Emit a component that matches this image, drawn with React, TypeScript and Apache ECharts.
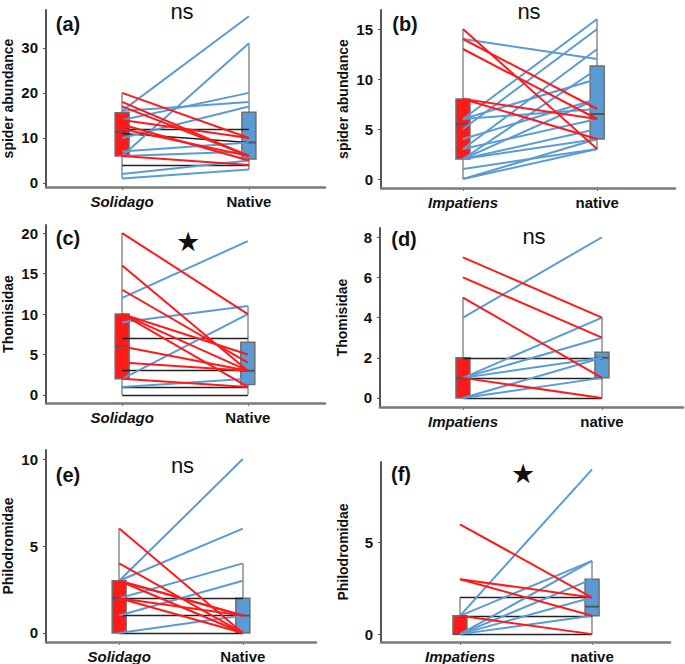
import React, { useEffect, useRef } from "react";
import * as echarts from "echarts";

type Pair = [number, number];

// ---------- data ----------
const catsSolidago = ["Solidago", "Native"];
const catsImpatiens = ["Impatiens", "native"];
const yTitles = ["spider abundance", "spider abundance", "Thomisidae", "Thomisidae", "Philodromidae", "Philodromidae"];
const panelLabels = ["(a)", "(b)", "(c)", "(d)", "(e)", "(f)"];
const signifLabels = ["ns", "ns", "★", "ns", "ns", "★"];

const ticksA = [0, 10, 20, 30];
const ticksB = [0, 5, 10, 15];
const ticksC = [0, 5, 10, 15, 20];
const ticksD = [0, 2, 4, 6, 8];
const ticksE = [0, 5, 10];
const ticksF = [0, 5];

// paired values [invasive, native]
const redA: Pair[] = [[20, 10], [18, 6], [17, 6], [14, 10], [13, 5], [12, 6], [6, 4]];
const blueA: Pair[] = [[16, 37], [6, 31], [14, 20], [16, 18], [10, 17], [7, 9], [6, 7], [2, 5], [1, 3]];
const blackA: Pair[] = [[12, 12], [11, 9], [4, 4]];

const redB: Pair[] = [[15, 3], [14, 7], [13, 6], [8, 6], [8, 4]];
const blueB: Pair[] = [[14, 12], [6, 16], [5, 15], [3, 13], [2, 11], [6, 10], [2, 8], [4, 8], [6, 7], [3, 6], [2, 5], [2, 4], [1, 3], [0, 4], [0, 3]];
const blackB: Pair[] = [];

const redC: Pair[] = [[20, 10], [16, 3], [13, 4], [10, 5], [10, 3], [10, 1], [6, 3], [4, 3], [2, 1]];
const blueC: Pair[] = [[12, 19], [9, 11], [2, 10], [1, 2]];
const blackC: Pair[] = [[7, 7], [3, 3], [1, 1], [0, 0]];

const redD: Pair[] = [[7, 4], [6, 3], [5, 1], [1, 0]];
const blueD: Pair[] = [[4, 8], [1, 4], [1, 3], [1, 2], [0, 2], [0, 1]];
const blackD: Pair[] = [[2, 2], [1, 1], [0, 0]];

const redE: Pair[] = [[6, 0], [4, 0], [3, 1], [3, 1], [3, 0], [2, 1], [2, 0]];
const blueE: Pair[] = [[3, 10], [3, 6], [2, 4], [1, 3], [0, 1]];
const blackE: Pair[] = [[2, 2], [1, 1], [0, 0]];

const redF: Pair[] = [[6, 2], [3, 2], [3, 1], [1, 0]];
const blueF: Pair[] = [[1, 9], [1, 4], [0, 4], [0, 3], [0, 2], [0, 1]];
const blackF: Pair[] = [[2, 2], [1, 1], [0, 0]];

// boxes: [q1, median, q3] for invasive / native
const boxA = [[6, 11.4, 15.6], [5.3, 9, 15.7]];
const boxB = [[2, 5.5, 8], [4, 6.5, 11.3]];
const boxC = [[2, 6, 10], [1.3, 3, 6.5]];
const boxD = [[0, 1, 2], [1, 2, 2.27]];
const boxE = [[0, 2, 3], [0, 1, 2]];
const boxF = [[0, 0, 1], [1, 1.5, 3]];

// whiskers: [low, high] for invasive / native
const whiskA = [[1, 20], [3, 31]];
const whiskB = [[0, 15], [3, 16]];
const whiskC = [[0, 20], [0, 11]];
const whiskD = [[0, 5], [0, 4]];
const whiskE = [[0, 6], [0, 4]];
const whiskF = [[0, 2], [0, 4]];

// ---------- layout ----------
const FONT = '"Liberation Sans", Arial, Helvetica, sans-serif';
const RED = "#ff1a1a";
const BLUE = "#5b9bd5";

const layouts = [
  { left: 44, right: 360, top: 10, bottom: 477, xMin: -0.6, xMax: 1.6, yMin: -0.89, yMax: 38.4, lab: [68, 24], sig: [182, 0], sigTop: true },
  { left: 381, right: 10, top: 10, bottom: 476, xMin: -0.611, xMax: 1.58, yMin: -0.9, yMax: 16.9, lab: [405, 24], sig: [529, 0], sigTop: true },
  { left: 43, right: 360, top: 225, bottom: 261, xMin: -0.606, xMax: 1.614, yMin: -0.99, yMax: 21.0, lab: [68, 238], sig: [188, 241], sigTop: false },
  { left: 380, right: 2, top: 228, bottom: 257, xMin: -0.597, xMax: 1.583, yMin: -0.45, yMax: 8.46, lab: [404, 238.5], sig: [534, 236.5], sigTop: false },
  { left: 43, right: 369, top: 450, bottom: 22, xMin: -0.592, xMax: 1.592, yMin: -0.52, yMax: 10.52, lab: [68, 475], sig: [182.5, 465.5], sigTop: false },
  { left: 381, right: 15, top: 462, bottom: 21, xMin: -0.598, xMax: 1.59, yMin: -0.43, yMax: 9.4, lab: [401, 474], sig: [523, 473], sigTop: false },
];

const panels = [
  { cats: catsSolidago, ticks: ticksA, red: redA, blue: blueA, black: blackA, box: boxA, whisk: whiskA },
  { cats: catsImpatiens, ticks: ticksB, red: redB, blue: blueB, black: blackB, box: boxB, whisk: whiskB },
  { cats: catsSolidago, ticks: ticksC, red: redC, blue: blueC, black: blackC, box: boxC, whisk: whiskC },
  { cats: catsImpatiens, ticks: ticksD, red: redD, blue: blueD, black: blackD, box: boxD, whisk: whiskD },
  { cats: catsSolidago, ticks: ticksE, red: redE, blue: blueE, black: blackE, box: boxE, whisk: whiskE },
  { cats: catsImpatiens, ticks: ticksF, red: redF, blue: blueF, black: blackF, box: boxF, whisk: whiskF },
];

function pairLines(pairs: Pair[]) {
  return pairs.map((p) => ({ coords: [[0, p[0]], [1, p[1]]] }));
}

function buildOption() {
  const grid: any[] = [];
  const xAxis: any[] = [];
  const yAxis: any[] = [];
  const series: any[] = [];
  const graphic: any[] = [];

  panels.forEach((p, i) => {
    const L = layouts[i];
    grid.push({ left: L.left, right: L.right, top: L.top, bottom: L.bottom, containLabel: false });
    xAxis.push({
      type: "value",
      gridIndex: i,
      min: L.xMin,
      max: L.xMax,
      splitLine: { show: false },
      axisLine: { show: true, onZero: false, lineStyle: { color: "#7a7a7a", width: 2.5 } },
      axisTick: { show: true, customValues: [0, 1], length: 3, lineStyle: { color: "#7a7a7a", width: 1 } },
      axisLabel: {
        customValues: [0, 1],
        margin: 7,
        formatter: (v: number) => (v === 0 ? `{i|${p.cats[0]}}` : `{b|${p.cats[1]}}`),
        rich: {
          i: { fontFamily: FONT, fontSize: 15, fontWeight: "bold", fontStyle: "italic", color: "#111" },
          b: { fontFamily: FONT, fontSize: 15, fontWeight: "bold", color: "#111" },
        },
      },
    });
    yAxis.push({
      type: "value",
      gridIndex: i,
      min: L.yMin,
      max: L.yMax,
      name: yTitles[i],
      nameLocation: "middle",
      nameRotate: 90,
      nameGap: 31,
      nameTextStyle: { fontFamily: FONT, fontSize: 14, fontWeight: "bold", color: "#111" },
      splitLine: { show: false },
      axisLine: { show: true, onZero: false, lineStyle: { color: "#555", width: 2 } },
      axisTick: { show: true, customValues: p.ticks, length: 3, lineStyle: { color: "#555", width: 1 } },
      axisLabel: {
        customValues: p.ticks,
        margin: 8,
        fontFamily: FONT,
        fontSize: 15,
        fontWeight: "bold",
        color: "#111",
      },
    });

    // whiskers
    series.push({
      type: "lines",
      coordinateSystem: "cartesian2d",
      xAxisIndex: i,
      yAxisIndex: i,
      silent: true,
      z: 1,
      lineStyle: { color: "#8c8c8c", width: 1.5, opacity: 1 },
      data: [
        { coords: [[0, p.whisk[0][0]], [0, p.whisk[0][1]]] },
        { coords: [[1, p.whisk[1][0]], [1, p.whisk[1][1]]] },
      ],
    });
    // boxes
    series.push({
      type: "custom",
      coordinateSystem: "cartesian2d",
      xAxisIndex: i,
      yAxisIndex: i,
      silent: true,
      z: 2,
      clip: false,
      data: [
        [0, p.box[0][0], p.box[0][1], p.box[0][2], 0],
        [1, p.box[1][0], p.box[1][1], p.box[1][2], 1],
      ],
      renderItem: (params: any, api: any) => {
        const x = api.value(0);
        const top = api.coord([x, api.value(3)]);
        const bot = api.coord([x, api.value(1)]);
        const med = api.coord([x, api.value(2)]);
        const w = 14;
        const fill = api.value(4) === 0 ? RED : BLUE;
        return {
          type: "group",
          children: [
            {
              type: "rect",
              shape: { x: top[0] - w / 2, y: top[1], width: w, height: bot[1] - top[1] },
              style: { fill, stroke: "#6e6e6e", lineWidth: 1.5 },
            },
            {
              type: "line",
              shape: { x1: top[0] - w / 2, y1: med[1], x2: top[0] + w / 2, y2: med[1] },
              style: { stroke: "#555", lineWidth: 2 },
            },
          ],
        };
      },
    });
    // unchanged pairs
    series.push({
      type: "lines",
      coordinateSystem: "cartesian2d",
      xAxisIndex: i,
      yAxisIndex: i,
      silent: true,
      z: 3,
      lineStyle: { color: "#222", width: 1.4, opacity: 1 },
      data: pairLines(p.black),
    });
    series.push({
      type: "lines",
      coordinateSystem: "cartesian2d",
      xAxisIndex: i,
      yAxisIndex: i,
      silent: true,
      z: 4,
      lineStyle: { color: BLUE, width: 2, opacity: 1 },
      data: pairLines(p.blue),
    });
    series.push({
      type: "lines",
      coordinateSystem: "cartesian2d",
      xAxisIndex: i,
      yAxisIndex: i,
      silent: true,
      z: 4,
      lineStyle: { color: RED, width: 2, opacity: 1 },
      data: pairLines(p.red),
    });

    graphic.push({
      type: "text",
      x: L.lab[0],
      y: L.lab[1],
      style: { text: panelLabels[i], fontFamily: FONT, fontSize: 20, fontWeight: "bold", fill: "#111", align: "center", verticalAlign: "middle" },
    });
    const isStar = signifLabels[i] === "★";
    graphic.push({
      type: "text",
      x: L.sig[0],
      y: L.sig[1],
      style: {
        text: signifLabels[i],
        fontFamily: isStar ? '"DejaVu Sans", sans-serif' : FONT,
        fontSize: isStar ? 27 : 22,
        lineHeight: L.sigTop ? 22 : undefined,
        fill: "#111",
        align: "center",
        verticalAlign: L.sigTop ? "top" : "middle",
      },
    });
  });

  return { animation: false, backgroundColor: "#fff", grid, xAxis, yAxis, series, graphic };
}

export default function App() {
  const ref = useRef<HTMLDivElement>(null);
  useEffect(() => {
    if (!ref.current) return;
    const chart = echarts.init(ref.current, undefined, { renderer: "svg" });
    chart.setOption(buildOption() as any);
    return () => chart.dispose();
  }, []);
  return <div ref={ref} style={{ position: "fixed", left: 0, top: 0, width: 685, height: 664, background: "#fff" }} />;
}
